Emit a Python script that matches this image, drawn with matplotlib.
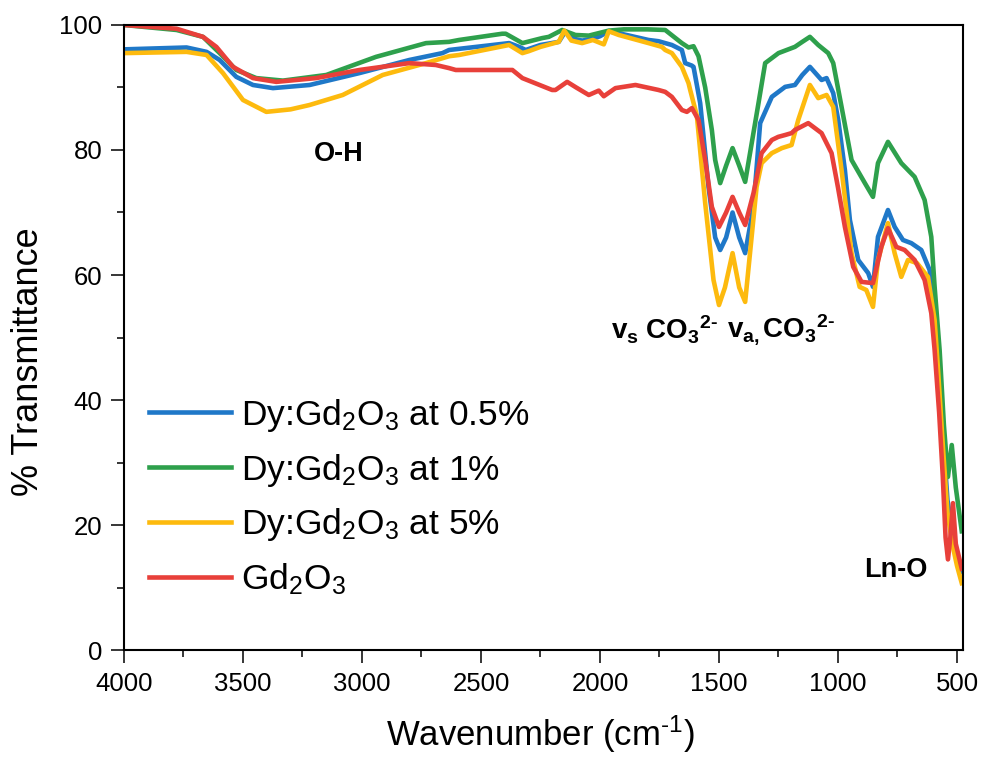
import matplotlib
matplotlib.use('Agg')
import numpy as np
from matplotlib import pyplot as plt

plt.rcParams['font.family'] = ['Liberation Sans', 'DejaVu Sans']
plt.rcParams['mathtext.fontset'] = 'custom'
plt.rcParams['mathtext.rm'] = 'Liberation Sans'
plt.rcParams['mathtext.it'] = 'Liberation Sans:italic'
plt.rcParams['mathtext.bf'] = 'Liberation Sans:bold'

# Dy:Gd2O3 at 0.5%
wn_05 = [4000, 3737, 3653, 3598, 3528, 3458, 3374, 3220, 3011, 2801, 2662, 2634, 2382, 2340, 2312, 2250,
         2173, 2145, 2110, 2075, 2030, 2000, 1963, 1900, 1796, 1754, 1698, 1656, 1642, 1614, 1607, 1579,
         1544, 1516, 1495, 1470, 1443, 1415, 1390, 1355, 1327, 1278, 1222, 1181, 1150, 1118, 1069, 1048,
         1020, 999, 971, 950, 915, 873, 853, 832, 790, 762, 727, 692, 650, 615, 594, 580, 560, 540, 520,
         500, 480]
t_05 = [96.1, 96.4, 95.7, 94.4, 91.7, 90.4, 89.9, 90.4, 92.3, 94.4, 95.5, 96.0, 97.1, 96.5, 96.0, 96.8,
        97.3, 99.0, 97.8, 97.5, 97.8, 98.2, 99.0, 98.5, 97.6, 97.4, 96.8, 96.0, 93.9, 93.5, 93.3, 87.5,
        74.1, 66.0, 64.0, 66.0, 70.0, 66.0, 63.5, 70.9, 84.3, 88.5, 90.1, 90.4, 92.0, 93.3, 91.2, 91.5,
        89.1, 84.8, 76.8, 68.8, 62.4, 60.3, 58.1, 66.1, 70.4, 67.7, 65.6, 65.1, 64.0, 60.8, 52.8, 48.0,
        35.0, 24.0, 19.0, 15.5, 12.5]

# Dy:Gd2O3 at 1%
wn_1 = [4000, 3779, 3668, 3598, 3528, 3444, 3332, 3150, 2941, 2731, 2634, 2592, 2411, 2396, 2326, 2243,
        2215, 2159, 2103, 2047, 1963, 1900, 1800, 1726, 1656, 1628, 1607, 1586, 1558, 1530, 1516, 1495,
        1470, 1443, 1415, 1390, 1334, 1306, 1250, 1181, 1150, 1118, 1083, 1041, 1020, 985, 943, 887, 853,
        832, 790, 734, 678, 636, 608, 594, 573, 555, 538, 522, 505, 480]
t_1 = [100.0, 99.2, 98.1, 95.5, 92.8, 91.5, 91.1, 92.0, 94.9, 97.1, 97.3, 97.6, 98.6, 98.6, 97.1, 97.9,
       98.1, 99.2, 98.4, 98.3, 99.1, 99.3, 99.3, 99.2, 97.1, 96.4, 96.6, 95.0, 90.0, 83.2, 78.4, 74.7,
       77.5, 80.3, 77.5, 74.9, 87.5, 93.9, 95.5, 96.5, 97.3, 98.1, 96.8, 95.5, 93.9, 86.9, 78.4, 74.7, 72.5,
       77.9, 81.3, 77.9, 75.7, 72.0, 66.1, 58.1, 48.0, 36.0, 27.7, 32.8, 26.0, 19.0]

# Dy:Gd2O3 at 5%
wn_5 = [4000, 3737, 3653, 3584, 3500, 3402, 3300, 3220, 3081, 2913, 2731, 2634, 2592, 2382, 2326, 2300,
        2250, 2173, 2150, 2120, 2075, 2030, 1984, 1963, 1921, 1796, 1740, 1726, 1698, 1656, 1628, 1621,
        1593, 1558, 1523, 1500, 1475, 1443, 1415, 1390, 1342, 1321, 1278, 1236, 1195, 1167, 1118, 1083,
        1048, 1020, 985, 943, 909, 881, 853, 832, 790, 762, 734, 706, 668, 622, 594, 580, 560, 540, 520,
        500, 480]
t_5 = [95.5, 95.7, 95.2, 92.3, 88.0, 86.1, 86.5, 87.2, 88.8, 92.0, 93.9, 95.0, 95.2, 96.8, 95.5, 95.8,
       96.5, 97.3, 99.1, 97.5, 97.1, 97.6, 96.9, 99.0, 98.4, 97.1, 96.5, 96.0, 95.5, 93.3, 90.7, 89.6,
       85.5, 71.5, 59.2, 55.2, 58.0, 63.5, 58.0, 55.7, 74.1, 77.9, 79.5, 80.3, 80.8, 84.8, 90.4, 88.3,
       88.8, 86.9, 76.8, 63.5, 58.1, 57.6, 54.9, 62.4, 68.3, 63.5, 59.7, 62.4, 61.9, 59.7, 52.8, 45.0,
       33.0, 22.0, 17.0, 13.5, 10.7]

# Gd2O3
wn_0 = [4000, 3779, 3668, 3612, 3542, 3458, 3360, 3193, 3011, 2801, 2690, 2634, 2606, 2368, 2326, 2201,
        2187, 2138, 2100, 2047, 2005, 1984, 1935, 1851, 1754, 1726, 1698, 1656, 1635, 1614, 1586, 1558,
        1530, 1500, 1470, 1443, 1415, 1390, 1355, 1321, 1278, 1251, 1222, 1195, 1181, 1125, 1069, 1027,
        1000, 971, 936, 901, 853, 818, 790, 755, 720, 678, 636, 608, 594, 575, 560, 548, 538, 528, 517,
        505, 480]
t_0 = [100.0, 99.4, 98.1, 96.5, 93.3, 91.5, 90.9, 91.5, 92.8, 93.9, 93.6, 93.1, 92.8, 92.8, 91.5, 89.6,
       89.6, 90.9, 90.0, 88.8, 89.5, 88.6, 89.9, 90.4, 89.6, 89.3, 88.5, 86.4, 86.1, 86.7, 84.8, 78.4,
       70.9, 67.7, 70.0, 72.5, 70.0, 68.0, 73.1, 79.5, 81.6, 82.1, 82.4, 82.7, 83.2, 84.3, 82.7, 79.5,
       74.0, 67.7, 61.3, 58.9, 58.7, 64.5, 67.5, 64.5, 64.0, 62.4, 59.2, 53.9, 48.0, 38.0, 28.0, 18.0,
       14.5, 18.0, 23.5, 17.0, 13.0]

series = [
    (wn_05, t_05, '#1f78c8', r'Dy:Gd$\mathregular{_2}$O$\mathregular{_3}$ at 0.5%'),
    (wn_1, t_1, '#2ea04c', r'Dy:Gd$\mathregular{_2}$O$\mathregular{_3}$ at 1%'),
    (wn_5, t_5, '#fdba0e', r'Dy:Gd$\mathregular{_2}$O$\mathregular{_3}$ at 5%'),
    (wn_0, t_0, '#e8403a', r'Gd$\mathregular{_2}$O$\mathregular{_3}$'),
]

fig = plt.figure(figsize=(9.84, 7.57), dpi=100)
ax = fig.add_axes([0.126, 0.1413, 0.8526, 0.8257])

for wn, t, c, lab in series:
    ax.plot(wn, t, color=c, lw=3.3, label=lab, solid_joinstyle='round')

ax.set_xlim(4000, 475)
ax.set_ylim(0, 100)
ax.set_xticks([4000, 3500, 3000, 2500, 2000, 1500, 1000, 500])
ax.set_xticks([3750, 3250, 2750, 2250, 1750, 1250, 750], minor=True)
ax.set_yticks([0, 20, 40, 60, 80, 100])
ax.set_yticks([10, 30, 50, 70, 90], minor=True)
ax.tick_params(which='major', direction='out', length=9.5, width=1.1, labelsize=18.5, pad=6)
ax.tick_params(which='minor', direction='out', length=5, width=1.1)
for s in ax.spines.values():
    s.set_linewidth(1.5)

hy = '\u2010'
ax.set_xlabel(r'Wavenumber (cm$\mathregular{^{' + hy + '1}}$)', fontsize=25)
ax.xaxis.set_label_coords(0.496, -0.101)
ax.set_ylabel('% Transmittance', fontsize=26)
ax.yaxis.set_label_coords(-0.093, 0.461)

ax.text(3099, 79.4, 'O-H', fontsize=19.5, fontweight='bold', ha='center', va='center')
ax.text(1728, 51.2, r'$\mathbf{v_s\ CO_3{}^{2' + hy + '}}$', fontsize=20, ha='center', va='center')
ax.text(1238, 51.2, r'$\mathbf{v_{a,}CO_3{}^{2' + hy + '}}$', fontsize=20, ha='center', va='center')
ax.text(756, 12.8, 'Ln-O', fontsize=19.5, fontweight='bold', ha='center', va='center')

ax.legend(loc='upper left', bbox_to_anchor=(0.03, 0.405), frameon=False, fontsize=25.5,
          handlelength=2.3, handletextpad=0.3, labelspacing=0.5, borderpad=0, borderaxespad=0)

fig.savefig('out.png', dpi=100)
